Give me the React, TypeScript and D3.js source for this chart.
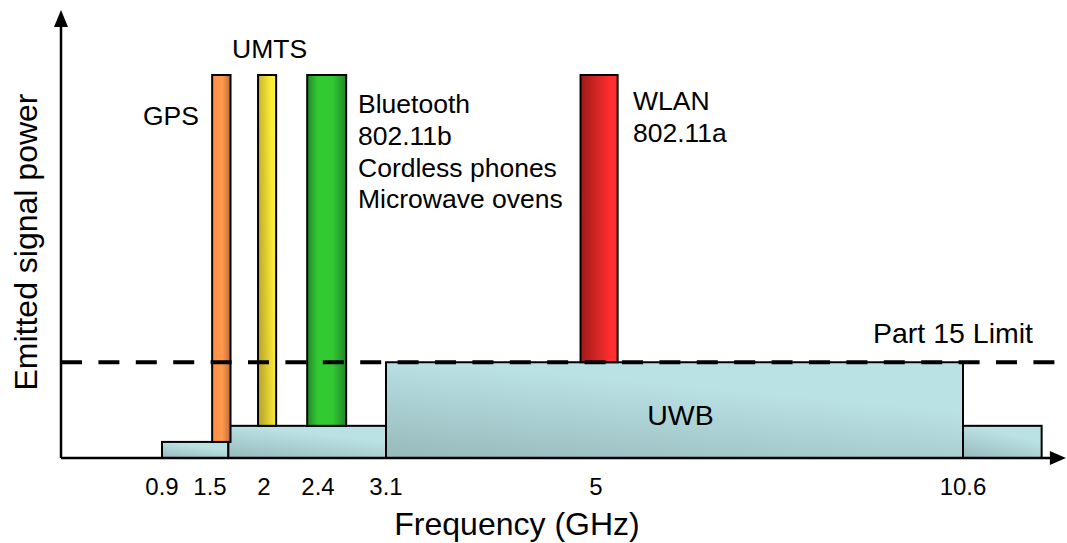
import * as d3 from "d3";

// frequency ticks (GHz) and where they sit along the axis (the original axis is not to scale)
const tickValues = [0.9, 1.5, 2, 2.4, 3.1, 5, 10.6];
const tickPixels = [162, 210, 264, 318, 386, 596, 963];

// narrow-band services: [start GHz, end GHz]
const serviceNames = ["GPS", "UMTS", "Bluetooth", "WLAN"];
const serviceStart = [1.52, 1.945, 2.32, 4.86];
const serviceEnd = [1.69, 2.09, 2.69, 5.33];
const serviceFill = ["grad-gps", "grad-umts", "grad-bt", "grad-wlan"];

// UWB emission mask steps
const stepStart = [0.9, 1.67, 3.1, 10.6];
const stepEnd = [1.67, 3.1, 10.6, 11.8];
const stepLevel = [4.2, 8.4, 25, 8.4];

const peakLevel = 100;
const part15Level = 25;
const xMax = 12.17;

const font = "'Liberation Sans', Arial, sans-serif";

export default function App() {
  const width = 1067;
  const height = 543;
  const axisX = 61;
  const axisY = 458;
  const x = d3.scaleLinear(tickValues, tickPixels);
  const y = d3.scaleLinear([0, peakLevel], [axisY, 75]);
  const xEnd = x(xMax);

  const services = serviceNames.map((name, i) => ({
    name,
    x0: x(serviceStart[i]),
    x1: x(serviceEnd[i]),
    fill: serviceFill[i],
    // each bar rests on whatever mask step lies under it
    base: stepLevel[stepStart.findIndex((s, k) => serviceStart[i] >= s && serviceStart[i] < stepEnd[k])] ?? 0
  }));

  return (
    <svg width={width} height={height} style={{ position: "absolute", left: 0, top: 0 }} fontFamily={font}>
      <defs>
        <linearGradient id="grad-uwb" x1="0" y1="1" x2="0.45" y2="0.2">
          <stop offset="0%" stopColor="#97babc" />
          <stop offset="100%" stopColor="#bae1e4" />
        </linearGradient>
        <linearGradient id="grad-gps" x1="0" x2="1" y1="0" y2="0">
          <stop offset="0%" stopColor="#ff8e42" />
          <stop offset="55%" stopColor="#ff9a4e" />
          <stop offset="100%" stopColor="#c26a36" />
        </linearGradient>
        <linearGradient id="grad-umts" x1="0" x2="1" y1="0.3" y2="0">
          <stop offset="0%" stopColor="#c2ad2c" />
          <stop offset="70%" stopColor="#fbeb36" />
          <stop offset="100%" stopColor="#fff23c" />
        </linearGradient>
        <linearGradient id="grad-bt" x1="0" x2="1" y1="0" y2="0">
          <stop offset="0%" stopColor="#1f8a27" />
          <stop offset="28%" stopColor="#33c933" />
          <stop offset="65%" stopColor="#33c933" />
          <stop offset="100%" stopColor="#21882a" />
        </linearGradient>
        <linearGradient id="grad-wlan" x1="0" x2="1" y1="0" y2="0">
          <stop offset="0%" stopColor="#9e1a1a" />
          <stop offset="80%" stopColor="#ff2e2e" />
          <stop offset="100%" stopColor="#ff3030" />
        </linearGradient>
      </defs>

      {/* UWB mask steps */}
      {stepStart.map((s, i) => (
        <rect
          key={`step-${i}`}
          x={x(s)}
          y={y(stepLevel[i])}
          width={x(stepEnd[i]) - x(s)}
          height={axisY - y(stepLevel[i])}
          fill="url(#grad-uwb)"
          stroke="#000"
          strokeWidth="2"
        />
      ))}

      {/* narrow-band services */}
      {services.map((s) => (
        <rect
          key={s.name}
          x={s.x0}
          y={y(peakLevel)}
          width={s.x1 - s.x0}
          height={y(s.base) - y(peakLevel)}
          fill={`url(#${s.fill})`}
          stroke="#000"
          strokeWidth="2"
        />
      ))}

      {/* Part 15 limit */}
      <line
        x1={axisX}
        x2={1056}
        y1={y(part15Level)}
        y2={y(part15Level)}
        stroke="#000"
        strokeWidth="4"
        strokeDasharray="21 16.4"
      />

      {/* axes */}
      <line x1={axisX} x2={axisX} y1={axisY} y2={24} stroke="#000" strokeWidth="2.5" />
      <path d={`M${axisX},10 L${axisX - 7},27 L${axisX + 7},27 Z`} fill="#000" />
      <line x1={axisX} x2={xEnd - 12} y1={axisY} y2={axisY} stroke="#000" strokeWidth="2.5" />
      <path d={`M${xEnd},${axisY} L${xEnd - 16},${axisY - 7} L${xEnd - 16},${axisY + 7} Z`} fill="#000" />

      {tickValues.map((t) => (
        <text key={t} x={x(t)} y={495} fontSize="24" textAnchor="middle">
          {t}
        </text>
      ))}

      <text x={517} y={535} fontSize="32" textAnchor="middle">Frequency (GHz)</text>
      <text transform={`translate(37,242) rotate(-90)`} fontSize="32" textAnchor="middle">
        Emitted signal power
      </text>

      <text x={143} y={125} fontSize="26.5">GPS</text>
      <text x={232} y={58} fontSize="26.5">UMTS</text>
      <text x={358} y={113} fontSize="26.5">
        {["Bluetooth", "802.11b", "Cordless phones", "Microwave ovens"].map((line, i) => (
          <tspan key={line} x={358} dy={i === 0 ? 0 : 31.8}>{line}</tspan>
        ))}
      </text>
      <text x={633} y={110} fontSize="26.5">
        {["WLAN", "802.11a"].map((line, i) => (
          <tspan key={line} x={633} dy={i === 0 ? 0 : 32}>{line}</tspan>
        ))}
      </text>
      <text x={873} y={343} fontSize="28.5">Part 15 Limit</text>
      <text x={(x(3.1) + x(10.6)) / 2 + 6} y={425} fontSize="28.5" textAnchor="middle">UWB</text>
    </svg>
  );
}
